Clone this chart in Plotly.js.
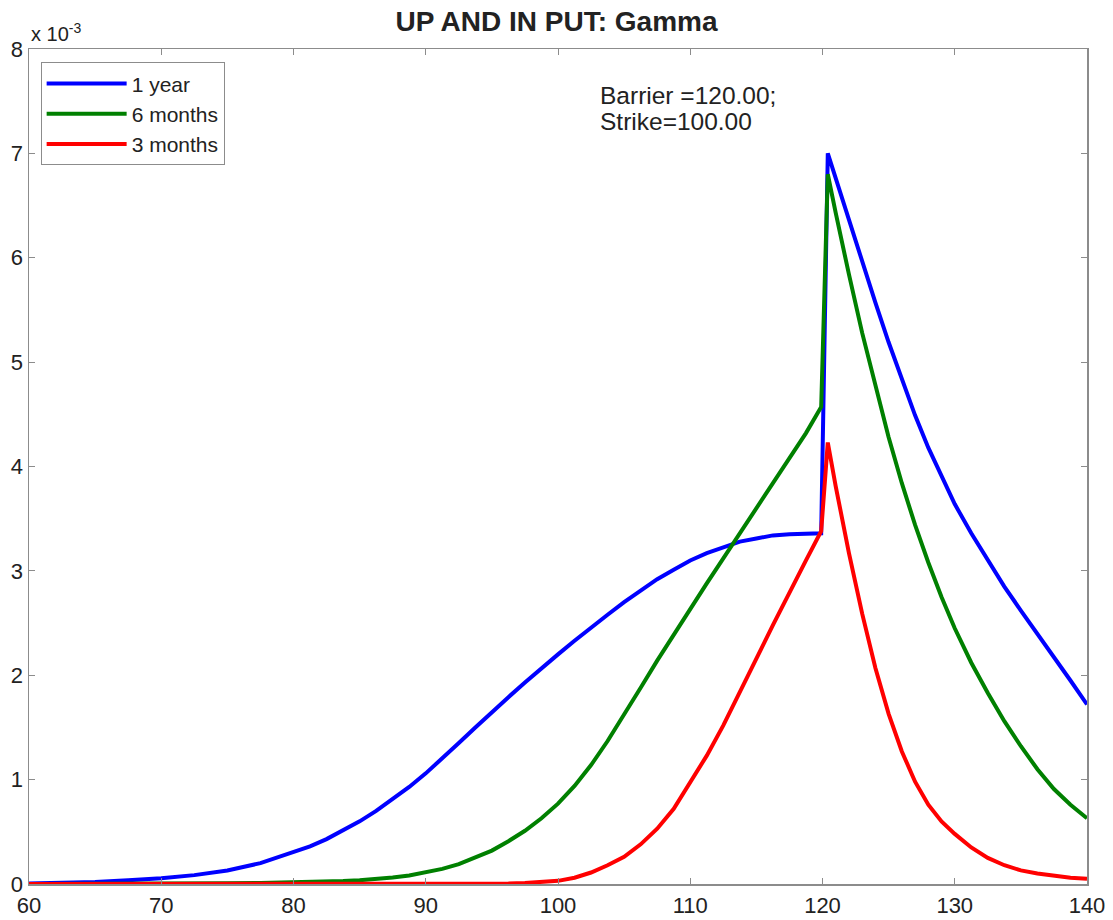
<!DOCTYPE html>
<html>
<head>
<meta charset="utf-8">
<script src="https://cdn.plot.ly/plotly-3.0.1.min.js"></script>
<style>
  html, body { margin: 0; padding: 0; background: #fff; }
  #chart { width: 1113px; height: 920px; }
</style>
</head>
<body>
<div id="chart"></div>
<script>
// spot price grid (barrier at 120)
const spot = [60, 62.5, 65, 67.5, 70, 72.5, 75, 77.5, 80,
  81.25, 82.5, 83.75, 85, 86.25, 87.5, 88.75, 90, 91.25, 92.5, 93.75, 95, 96.25, 97.5, 98.75, 100,
  101.25, 102.5, 103.75, 105, 106.25, 107.5, 108.75, 110, 111.25, 112.5, 113.75, 115, 116.25, 117.5, 118.75, 119.9,
  120.4, 121, 121.5, 122, 123, 124, 125, 126, 127, 128, 129, 130,
  131.25, 132.5, 133.75, 135, 136.25, 137.5, 138.75, 140];

// gamma values, in units of 1e-3
const gamma1y = [0.005, 0.01, 0.02, 0.035, 0.055, 0.085, 0.13, 0.20, 0.30,
  0.36, 0.43, 0.51, 0.60, 0.70, 0.81, 0.93, 1.06, 1.20, 1.35, 1.50, 1.65, 1.79, 1.93, 2.07, 2.20,
  2.33, 2.46, 2.58, 2.70, 2.81, 2.92, 3.01, 3.10, 3.17, 3.23, 3.28, 3.31, 3.34, 3.35, 3.36, 3.36,
  7.00, 6.76, 6.55, 6.35, 5.96, 5.57, 5.19, 4.83, 4.49, 4.18, 3.90, 3.64,
  3.36, 3.10, 2.85, 2.62, 2.40, 2.18, 1.95, 1.72];
const gamma6m = [0, 0, 0, 0.002, 0.003, 0.005, 0.007, 0.01, 0.015,
  0.018, 0.022, 0.028, 0.036, 0.047, 0.062, 0.082, 0.11, 0.145, 0.19, 0.25, 0.32, 0.41, 0.51, 0.63, 0.77,
  0.94, 1.14, 1.37, 1.62, 1.88, 2.14, 2.39, 2.64, 2.88, 3.12, 3.36, 3.60, 3.84, 4.08, 4.32, 4.57,
  6.80, 6.43, 6.13, 5.84, 5.28, 4.76, 4.28, 3.84, 3.44, 3.08, 2.75, 2.45,
  2.12, 1.83, 1.56, 1.32, 1.10, 0.91, 0.76, 0.63];
const gamma3m = [0, 0, 0, 0, 0, 0, 0, 0, 0,
  0, 0, 0, 0, 0, 0, 0, 0, 0, 0.001, 0.001, 0.002, 0.005, 0.01, 0.018, 0.03,
  0.06, 0.11, 0.18, 0.26, 0.38, 0.53, 0.72, 0.97, 1.23, 1.52, 1.83, 2.16, 2.48, 2.80, 3.10, 3.38,
  4.23, 3.81, 3.48, 3.17, 2.59, 2.07, 1.63, 1.27, 0.98, 0.76, 0.60, 0.48,
  0.35, 0.25, 0.18, 0.13, 0.10, 0.08, 0.06, 0.05];

const seriesNames = ["1 year", "6 months", "3 months"];
const seriesColors = ["#0000ff", "#008000", "#ff0000"];
const seriesValues = [gamma1y, gamma6m, gamma3m];

const FONT = 'Liberation Sans, Arial, Helvetica, sans-serif';

const data = seriesValues.map(function (vals, i) {
  return {
    x: spot, y: vals, type: 'scatter', mode: 'lines', name: seriesNames[i],
    line: {color: seriesColors[i], width: 4}
  };
});

const axisStyle = {
  showline: true, linecolor: '#8c8c8c', linewidth: 1.5, mirror: 'allticks',
  ticks: 'inside', ticklen: 6, tickcolor: '#8c8c8c',
  showgrid: false, zeroline: false,
  tickfont: {family: FONT, size: 22, color: '#222'}
};

const layout = {
  width: 1113, height: 920,
  margin: {l: 29, r: 26, t: 49, b: 36},
  paper_bgcolor: '#fff', plot_bgcolor: '#fff',
  font: {family: FONT, color: '#222'},
  title: {text: '<b>UP AND IN PUT: Gamma</b>', x: 0.5, xanchor: 'center', y: 0.977, yanchor: 'middle',
    font: {size: 28, color: '#222'}},
  xaxis: Object.assign({range: [60, 140], tickvals: [60, 70, 80, 90, 100, 110, 120, 130, 140], ticklabelstandoff: 1}, axisStyle),
  yaxis: Object.assign({range: [0, 8], tickvals: [0, 1, 2, 3, 4, 5, 6, 7, 8]}, axisStyle),
  showlegend: true,
  legend: {
    x: 0.011, y: 0.984, xanchor: 'left', yanchor: 'top',
    bgcolor: '#fff', bordercolor: '#8c8c8c', borderwidth: 1,
    font: {size: 21, color: '#222'}, tracegroupgap: 0, itemwidth: 80
  },
  annotations: [
    {xref: 'x', yref: 'y', x: 103.0, y: 7.555, xanchor: 'left', yanchor: 'middle', showarrow: false,
      text: 'Barrier =120.00;', font: {size: 24.5, color: '#222'}},
    {xref: 'x', yref: 'y', x: 103.0, y: 7.305, xanchor: 'left', yanchor: 'middle', showarrow: false,
      text: 'Strike=100.00', font: {size: 24.5, color: '#222'}},
    {xref: 'paper', yref: 'paper', x: 0, y: 1.002, xanchor: 'left', yanchor: 'bottom', showarrow: false,
      text: 'x 10<sup>-3</sup>', font: {size: 20, color: '#222'}}
  ]
};

Plotly.newPlot('chart', data, layout, {displayModeBar: false, staticPlot: true});
</script>
</body>
</html>
